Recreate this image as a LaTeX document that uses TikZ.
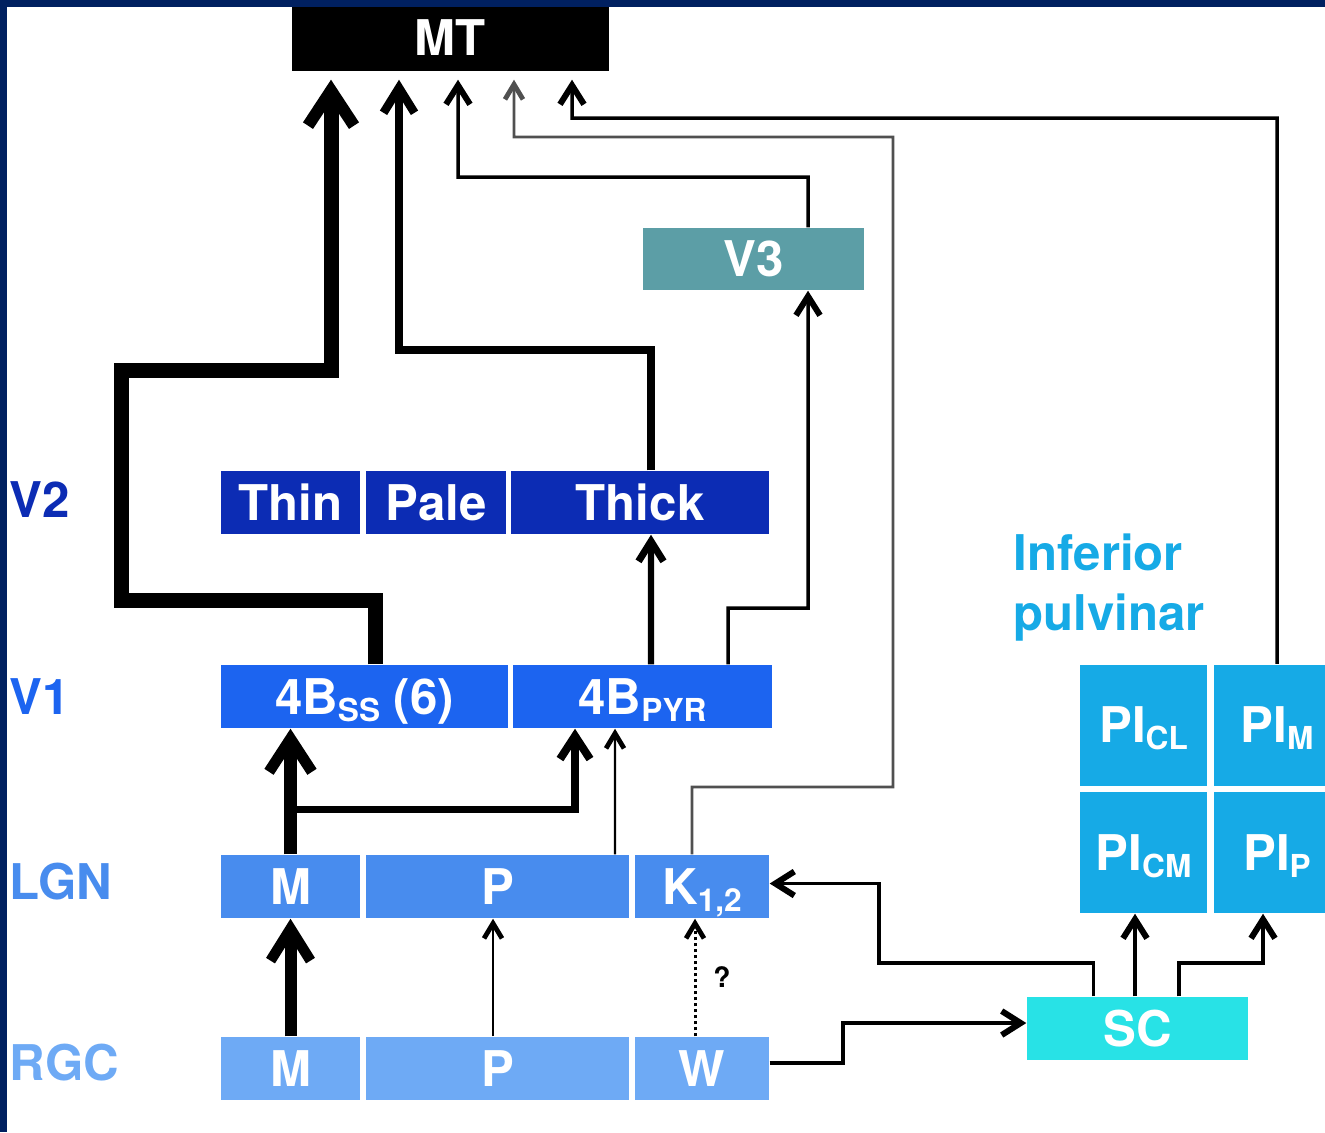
\documentclass[tikz,border=0pt]{standalone}
\usepackage{fontspec}
\setmainfont{TeX Gyre Heros}
\usetikzlibrary{arrows.meta,calc}

\definecolor{navy}{RGB}{0,32,96}
\definecolor{vtwo}{RGB}{12,44,180}
\definecolor{vone}{RGB}{28,100,240}
\definecolor{lgncol}{RGB}{72,140,238}
\definecolor{rgccol}{RGB}{110,170,245}
\definecolor{vthree}{RGB}{92,158,166}
\definecolor{sccol}{RGB}{40,226,230}
\definecolor{pulv}{RGB}{22,170,230}
\definecolor{wire}{RGB}{80,80,80}

\newcommand{\lowsub}[1]{\raisebox{-2pt}{\fontsize{9}{9}\selectfont #1}}

\begin{document}
\begin{tikzpicture}[
    x=0.1mm, y=-0.1mm,
    font=\fontsize{14}{17}\selectfont\bfseries,
    box/.style={inner sep=0pt, text=white, text height=3.5mm, text depth=0pt},
    row/.style={box, minimum height=6.3mm},
    cell/.style={box, fill=pulv, minimum width=12.7mm, minimum height=12.1mm},
    lab/.style={anchor=west, inner sep=0pt},
    arr/.style n args={4}{line width=#1mm, -{Straight Barb[length=#2mm, width=#3mm, line width=#4mm]}},
    heavyarr/.style={arr={1.5}{3.5}{4.6}{1.2}},
    heavyarrb/.style={arr={1.35}{3.3}{4.3}{1.1}},
    heavyarrc/.style={arr={1.2}{3.2}{4.0}{1.05}},
    boldarr/.style={arr={0.85}{2.5}{3.1}{0.85}},
    boldarrb/.style={arr={0.75}{2.3}{3.0}{0.8}},
    medarr/.style={arr={0.62}{2.0}{2.5}{0.7}},
    midarr/.style={arr={0.35}{1.9}{2.4}{0.6}},
    finearr/.style={arr={0.24}{1.5}{1.8}{0.48}},
    tomt/.style={shorten >=0.8mm},
  ]
  \useasboundingbox (0,0) rectangle (1325,1132);
  \clip (0,0) rectangle (1325,1132);

  % targets
  \node[box, fill=black, minimum width=31.7mm, minimum height=6.6mm] (mt) at (450.5,38) {MT};
  \node[box, fill=vthree, minimum width=22.1mm, minimum height=6.2mm] (v3) at (753.5,259) {V3};

  % V2
  \node[row, fill=vtwo, minimum width=13.9mm] (v2thin)  at (290.5,502.5) {Thin};
  \node[row, fill=vtwo, minimum width=14.0mm] (v2pale)  at (436,502.5) {Pale};
  \node[row, fill=vtwo, minimum width=25.8mm] (v2thick) at (640,502.5) {Thick};
  % V1
  \node[row, fill=vone, minimum width=28.7mm] (v1ss)  at (364.5,696.5) {4B\lowsub{SS} (6)};
  \node[row, fill=vone, minimum width=25.9mm] (v1pyr) at (642.5,696.5) {4B\lowsub{PYR}};
  % LGN
  \node[row, fill=lgncol, minimum width=13.9mm] (lgnm) at (290.5,886.5) {M};
  \node[row, fill=lgncol, minimum width=26.3mm] (lgnp) at (497.5,886.5) {P};
  \node[row, fill=lgncol, minimum width=13.4mm] (lgnk) at (702,886.5) {K\lowsub{1,2}};
  % RGC
  \node[row, fill=rgccol, minimum width=13.9mm] (rgcm) at (290.5,1068.5) {M};
  \node[row, fill=rgccol, minimum width=26.3mm] (rgcp) at (497.5,1068.5) {P};
  \node[row, fill=rgccol, minimum width=13.4mm] (rgcw) at (702,1068.5) {W};

  % SC and pulvinar
  \node[row, fill=sccol, minimum width=22.1mm] (sc) at (1137.5,1028.5) {SC};
  \node[cell] (picl) at (1143.5,725) {PI\lowsub{CL}};
  \node[cell] (pim)  at (1277,725) {PI\lowsub{M}};
  \node[cell] (picm) at (1143.5,852.5) {PI\lowsub{CM}};
  \node[cell] (pip)  at (1277,852.5) {PI\lowsub{P}};
  \node[anchor=north west, inner sep=0pt, align=left, text=pulv] (pulvlab) at (1013,533) {Inferior\\pulvinar};

  % row labels
  \node[lab, text=vtwo]   (labv2)  at (9,500) {V2};
  \node[lab, text=vone]   (labv1)  at (9,697) {V1};
  \node[lab, text=lgncol] (lablgn) at (9,882) {LGN};
  \node[lab, text=rgccol] (labrgc) at (9,1063) {RGC};

  % into MT
  \draw[heavyarr, tomt] ($(v1ss.north)+(10.5,0)$) |- (121,600) |- (331,370) -- ($(mt.south)+(-119.5,0)$);
  \draw[boldarr, tomt] ($(v2thick.north)+(11,0)$) |- (399,350) -- ($(mt.south)+(-51.5,0)$);
  \draw[midarr, tomt] ($(v3.north)+(54.5,0)$) |- (458,177) -- ($(mt.south)+(7.5,0)$);
  \draw[finearr, wire, line width=0.28mm, tomt] ($(lgnk.north)+(-10,0)$) |- (893,787) |- (514,137) -- ($(mt.south)+(63.5,0)$);
  \draw[midarr, tomt] (pim.north) |- (572,118) -- ($(mt.south)+(121.5,0)$);

  % V1 to V2 and V3
  \draw[medarr] ($(v1pyr.north)+(8.5,0)$) -- ($(v2thick.south)+(11,0)$);
  \draw[midarr] ($(v1pyr.north)+(85.5,0)$) |- (808,608) -- ($(v3.south)+(54.5,0)$);

  % LGN to V1
  \draw[heavyarrb] (lgnm.north) -- ($(v1ss.south)+(-74,0)$);
  \draw[boldarrb] ($(lgnm.north)+(0,-45)$) -| ($(v1pyr.south)+(-67.5,0)$);
  \draw[finearr] ($(lgnp.north)+(117.5,0)$) -- ($(v1pyr.south)+(-27.5,0)$);

  % RGC to LGN
  \draw[heavyarrc] (rgcm.north) -- (lgnm.south);
  \draw[finearr] ($(rgcp.north)+(-4.5,0)$) -- ($(lgnp.south)+(-4.5,0)$);
  \draw[finearr, line width=0.3mm, dash pattern=on 0.3mm off 0.3mm] ($(rgcw.north)+(-7,0)$) -- ($(lgnk.south)+(-7,0)$);
  \node[font=\fontsize{8}{8}\selectfont\bfseries] (qmark) at (722,977) {?};

  % SC
  \draw[midarr] ($(rgcw.east)+(0,-5.5)$) -| (843,1023) -- ($(sc.west)+(0,-5.5)$);
  \draw[midarr] ($(sc.north)+(-44,0)$) |- (879,963) |- ($(lgnk.east)+(0,-3)$);
  \draw[midarr] ($(sc.north)+(-2.5,0)$) -- ($(picm.south)+(-8.5,0)$);
  \draw[midarr] ($(sc.north)+(41.5,0)$) |- (1263,963) -- ($(pip.south)+(-14,0)$);

  % frame
  \fill[navy] (0,0) rectangle (1325,7);
  \fill[navy] (0,0) rectangle (7,1132);
\end{tikzpicture}
\end{document}
